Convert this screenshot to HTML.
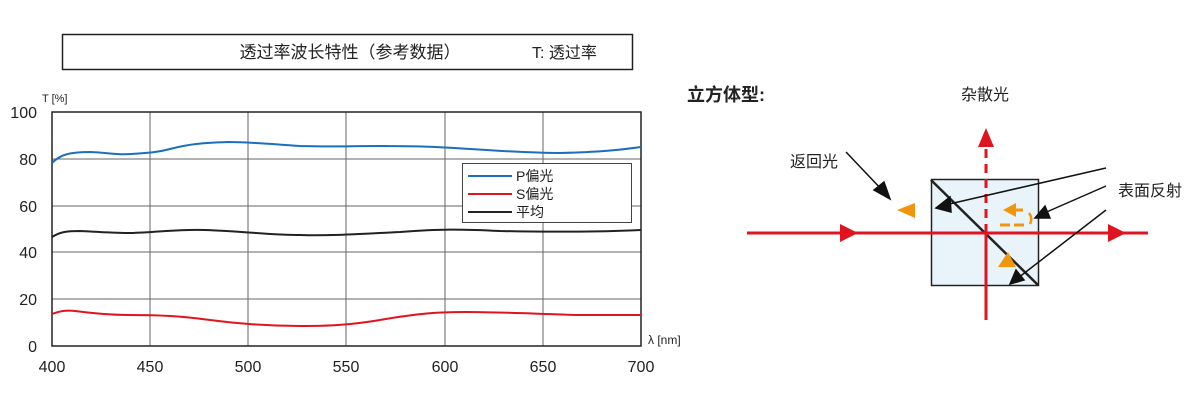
<!DOCTYPE html><html><head><meta charset="utf-8"><style>body{margin:0;background:#fff;width:1200px;height:402px;overflow:hidden}svg{font-family:"Liberation Sans","Noto Sans CJK SC",sans-serif}</style></head><body>
<svg width="1200" height="402" viewBox="0 0 1200 402">
<rect x="62.5" y="34.5" width="570" height="35" fill="none" stroke="#222" stroke-width="1.5"/>
<text x="350" y="58" font-size="17" text-anchor="middle" fill="#222">透过率波长特性（参考数据）</text>
<text x="532" y="58" font-size="16" fill="#222">T:  透过率</text>
<g stroke="#666" stroke-width="1">
<line x1="150" y1="112" x2="150" y2="346"/><line x1="248" y1="112" x2="248" y2="346"/><line x1="346" y1="112" x2="346" y2="346"/><line x1="445" y1="112" x2="445" y2="346"/><line x1="543" y1="112" x2="543" y2="346"/>
<line x1="52" y1="159" x2="641" y2="159"/><line x1="52" y1="206" x2="641" y2="206"/><line x1="52" y1="252" x2="641" y2="252"/><line x1="52" y1="299" x2="641" y2="299"/>
</g>
<rect x="52" y="112" width="589" height="234" fill="none" stroke="#222" stroke-width="1.5"/>
<g font-size="16" fill="#222" text-anchor="end">
<text x="37" y="118">100</text><text x="37" y="165">80</text><text x="37" y="212">60</text><text x="37" y="258">40</text><text x="37" y="305">20</text><text x="37" y="352">0</text></g>
<text x="42" y="102" font-size="11" fill="#222">T [%]</text>
<g font-size="16" fill="#222" text-anchor="middle">
<text x="52" y="372">400</text><text x="150" y="372">450</text><text x="248" y="372">500</text><text x="346" y="372">550</text><text x="445" y="372">600</text><text x="543" y="372">650</text><text x="641" y="372">700</text></g>
<text x="648" y="344" font-size="12" fill="#222">λ [nm]</text>
<path d="M52,163 C60,155 68,152 91,152 C110,153 118,155 130,154 C145,153 155,153 170,149 C190,144 200,143 228,142 C250,142 270,144 300,146 C330,147 350,146 380,146 C420,146 440,147 470,149 C500,151 530,153 560,153 C600,152 620,150 641,147" fill="none" stroke="#1a6fc0" stroke-width="2"/>
<path d="M52,237 C60,232 66,231 80,231 C100,232 115,233 130,233 C160,232 180,229 205,230 C240,231 270,235 300,235 C330,236 360,234 400,232 C440,229 460,229 500,231 C540,232 600,232 641,230" fill="none" stroke="#222" stroke-width="2"/>
<path d="M52,314 C60,311 66,310 75,311 C90,313 110,315 130,315 C160,315 180,316 210,320 C240,324 270,326 300,326 C330,326 350,325 380,320 C420,313 440,312 465,312 C500,312 540,314 580,315 C610,315 630,315 641,315" fill="none" stroke="#e0141e" stroke-width="2"/>
<rect x="462.5" y="163.5" width="169" height="59" fill="#fff" stroke="#444"/>
<line x1="468" y1="176" x2="512" y2="176" stroke="#1a6fc0" stroke-width="2"/><text x="516" y="181" font-size="14" fill="#222">P偏光</text>
<line x1="468" y1="194" x2="512" y2="194" stroke="#e0141e" stroke-width="2"/><text x="516" y="199" font-size="14" fill="#222">S偏光</text>
<line x1="468" y1="212" x2="512" y2="212" stroke="#222" stroke-width="2"/><text x="516" y="217" font-size="14" fill="#222">平均</text>
<text x="687" y="101" font-size="18" font-weight="bold" fill="#222">立方体型:</text>
<text x="985" y="100" font-size="16" fill="#222" text-anchor="middle">杂散光</text>
<text x="790" y="167" font-size="16" fill="#222">返回光</text>
<text x="1118" y="196" font-size="16" fill="#222">表面反射</text>
<rect x="931.5" y="179.5" width="107" height="106" fill="#e8f4fa" stroke="#222" stroke-width="1.5"/>
<line x1="931" y1="180" x2="1038" y2="285" stroke="#222" stroke-width="2.5"/>
<line x1="747" y1="233" x2="1148" y2="233" stroke="#e0141e" stroke-width="3"/>
<polygon points="840,224 858,233 840,242" fill="#e0141e"/>
<polygon points="1108,224 1126,233 1108,242" fill="#e0141e"/>
<line x1="986" y1="320" x2="986" y2="233" stroke="#e0141e" stroke-width="3"/>
<line x1="986" y1="233" x2="986" y2="140" stroke="#e0141e" stroke-width="3" stroke-dasharray="9,6"/>
<polygon points="978,147 986,128 994,147" fill="#e0141e"/>
<polygon points="915,203 915,218 897,210" fill="#f0950e"/>
<polygon points="1003,210 1016,203 1016,217" fill="#f0950e"/>
<line x1="1016" y1="210" x2="1023" y2="210" stroke="#f0950e" stroke-width="3"/>
<path d="M1000,225 H1024" stroke="#f0950e" stroke-width="3" fill="none" stroke-dasharray="10,4"/>
<path d="M1029,213 Q1033,218 1030,224" stroke="#f0950e" stroke-width="2.5" fill="none"/>
<polygon points="998,267 1008,252 1016,267" fill="#f0950e"/>
<g stroke="#111" stroke-width="1.5" fill="#111">
<line x1="846" y1="152" x2="884" y2="192"/><polygon points="890,199 874,190 884,182"/>
<line x1="1106" y1="168" x2="945" y2="205"/><polygon points="936,208 950,197 951,212"/>
<line x1="1106" y1="186" x2="1042" y2="214"/><polygon points="1035,218 1045,206 1050,218"/>
<line x1="1106" y1="210" x2="1018" y2="278"/><polygon points="1010,284 1016,270 1024,280"/>
</g>
</svg></body></html>
